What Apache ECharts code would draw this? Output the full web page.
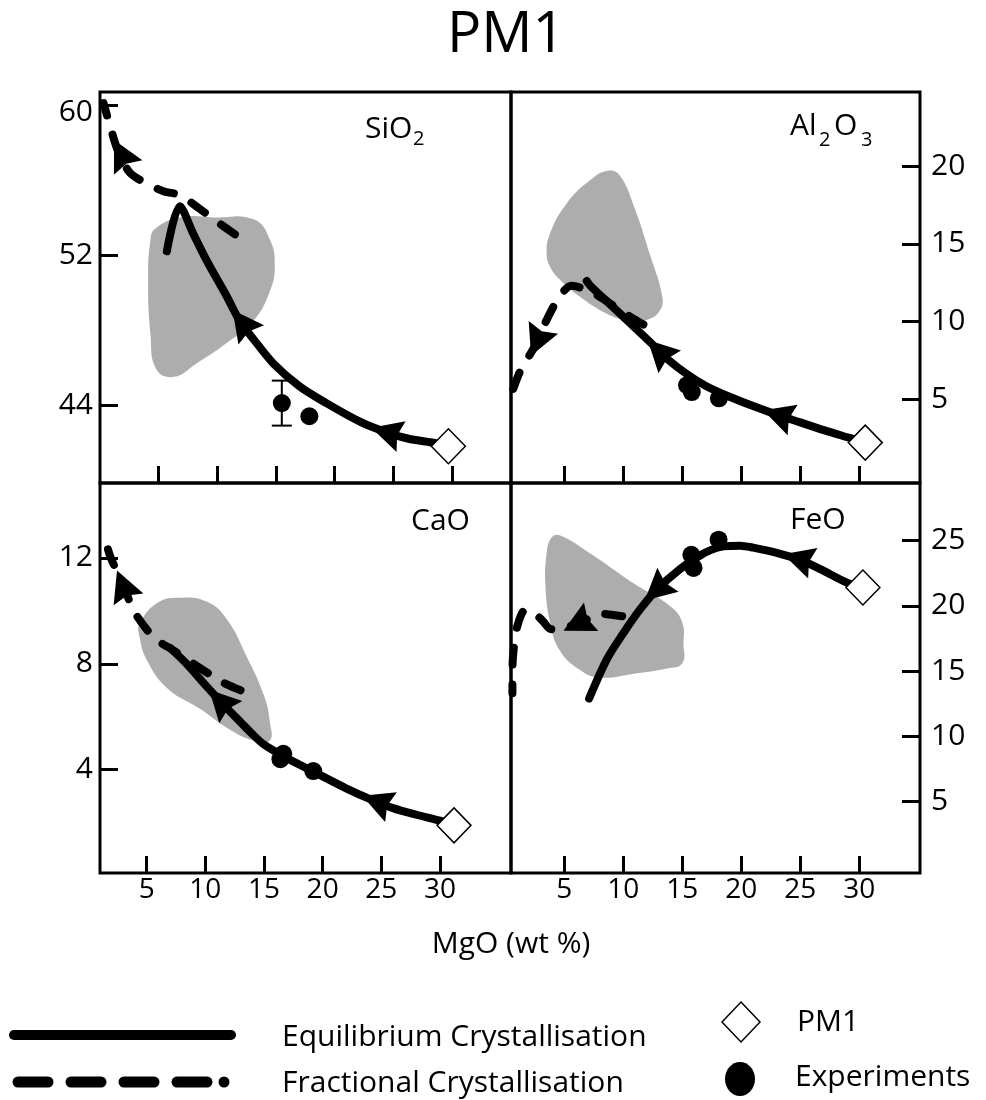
<!DOCTYPE html>
<html><head><meta charset="utf-8">
<script src="https://cdn.jsdelivr.net/npm/echarts@6/dist/echarts.min.js"></script>
<style>html,body{margin:0;padding:0;background:#fff}#c{width:986px;height:1100px}</style>
</head><body><div id="c"></div><script>
// ---------- data ----------
const xTicks = [5, 10, 15, 20, 25, 30];
const sioTicks = [44, 52, 60];
const alTicks = [5, 10, 15, 20];
const caTicks = [4, 8, 12];
const feTicks = [5, 10, 15, 20, 25];

// SiO2
const sioEq = [[29.7,41.8],[28.3,42.0],[26.3,42.2],[24.4,42.55],[22.2,43.1],[19.3,44.1],[17.0,45.0],[14.8,46.2],[13.1,47.5],[11.9,48.5],[10.8,49.8],[9.1,51.7],[7.9,53.2],[6.8,54.6],[5.7,52.2]];
const sioFrac = [[11.5,53.1],[9.7,53.9],[8.2,54.6],[6.8,55.2],[5.4,55.4],[3.4,56.0],[2.4,56.5],[1.5,57.6],[0.85,58.9],[0.3,60.1]];
const sioEqArrows = [[24.4,42.55],[12.1,48.4]];
const sioFracArrows = [[1.8,57.4]];
const sioArea = [[4.7,53.4],[6.8,54.0],[9.7,54.0],[13.1,53.9],[14.5,52.8],[14.9,51.4],[14.5,50.1],[13.1,48.5],[10.8,47.3],[8.2,46.2],[6.3,45.5],[4.8,45.9],[4.3,47.8],[4.1,50.7],[4.3,52.8]];
const sioExp = [[15.5,44.1],[17.85,43.4]];
const sioErr = [[15.5,42.9,45.3]];
const sioPM = [[29.7,41.8]];

// Al2O3
const alEq = [[30.5,2.2],[29.2,2.5],[27,3.0],[25,3.5],[23,4.0],[21,4.55],[19,5.15],[17,5.85],[15.4,6.6],[13.7,7.6],[12.5,8.5],[11.4,9.3],[10.0,10.3],[8.6,11.3],[7.2,12.3],[6.9,12.6]];
const alFrac = [[11.7,9.8],[10.6,10.3],[9.2,11.0],[7.5,11.8],[5.6,12.3],[4.6,11.6],[3.5,10.1],[2.7,8.7],[1.8,7.5],[1.2,6.7],[0.5,5.3]];
const alEqArrows = [[23.1,3.97],[13.0,8.1]];
const alFracArrows = [[2.7,8.7]];
const alArea = [[8.7,19.7],[9.7,19.4],[10.9,17.4],[12.3,14.2],[13.3,11.6],[13.1,10.7],[12.0,10.1],[10.3,10.1],[8.6,10.5],[6.3,11.6],[4.6,12.7],[3.8,13.5],[3.5,14.4],[3.8,15.7],[5.2,17.6],[7.2,19.1]];
const alExp = [[15.4,5.9],[15.8,5.45],[18.1,5.05]];
const alPM = [[30.5,2.2]];

// CaO
const caEq = [[31.2,1.9],[30.0,2.08],[28.0,2.3],[26.0,2.55],[24.0,2.9],[22.0,3.3],[20.0,3.75],[18.0,4.2],[16.5,4.55],[15.0,4.95],[14.0,5.35],[13.0,5.8],[11.25,6.6],[9.8,7.3],[8.4,8.0],[7.0,8.6]];
const caFrac = [[13.0,7.0],[11.5,7.3],[9.0,8.0],[7.3,8.5],[5.6,9.0],[3.9,10.0],[3.0,11.0],[1.9,12.05],[1.3,13.0]];
const caEqArrows = [[24.6,2.8],[11.25,6.6]];
const caFracArrows = [[2.96,10.98]];
const caArea = [[4.4,9.5],[5.9,10.3],[7.8,10.5],[10.1,10.35],[11.8,9.7],[13.5,8.3],[15.0,6.8],[15.5,5.8],[15.5,5.1],[14.1,5.1],[11.8,5.6],[9.55,6.3],[6.7,7.1],[5.0,8.15],[4.4,9.0]];
const caExp = [[16.65,4.6],[16.4,4.4],[19.2,3.95]];
const caPM = [[31.2,1.9]];

// FeO
const feEq = [[30.3,21.4],[29.0,21.75],[26.7,22.8],[25.0,23.5],[23.0,24.05],[21.0,24.45],[19.9,24.6],[18.5,24.55],[17.5,24.3],[16.5,23.85],[14.8,22.8],[12.8,21.2],[11.4,19.7],[10.0,17.9],[8.6,15.9],[7.1,12.9]];
const feFrac = [[9.9,19.2],[8.0,19.4],[7.2,19.1],[6.1,18.6],[3.9,18.2],[3.2,18.8],[2.4,19.5],[1.7,19.7],[1.0,18.4],[0.7,16.6],[0.6,15.1],[0.6,13.3]];
const feEqArrows = [[24.8,23.6],[12.8,21.2]];
const feFracArrows = [[6.1,18.62]];
const feArea = [[4.6,25.4],[7.2,24.0],[10.9,21.7],[14.0,19.95],[15.0,18.7],[15.1,17.1],[15.0,15.6],[13.7,15.2],[10.9,14.8],[8.0,14.5],[6.3,15.1],[4.6,16.6],[3.8,18.7],[3.4,21.5],[3.5,24.0],[3.9,25.2]];
const feExp = [[15.76,23.9],[15.95,22.9],[18.07,25.06]];
const fePM = [[30.3,21.4]];

// ---------- chart ----------
const FONT = '"Open Sans", sans-serif';
const ARROW = 'path://M15,0 L30,30 L15,26 L0,30 Z';
const chart = echarts.init(document.getElementById('c'));

const panels = [
  {eq: sioEq, frac: sioFrac, eqA: sioEqArrows, frA: sioFracArrows, area: sioArea, exp: sioExp, pm: sioPM, yTicks: sioTicks,
   grid: {left: 100, top: 92, width: 411, height: 391}, xr: [0, 35.04], yr: [39.84, 60.69], yPos: 'left', xLabels: false},
  {eq: alEq, frac: alFrac, eqA: alEqArrows, frA: alFracArrows, area: alArea, exp: alExp, pm: alPM, yTicks: alTicks,
   grid: {left: 511, top: 92, width: 409, height: 391}, xr: [0.48, 35.14], yr: [-0.4, 24.77], yPos: 'right', xLabels: false},
  {eq: caEq, frac: caFrac, eqA: caEqArrows, frA: caFracArrows, area: caArea, exp: caExp, pm: caPM, yTicks: caTicks,
   grid: {left: 100, top: 483, width: 411, height: 390}, xr: [1.02, 36.06], yr: [0.1, 14.83], yPos: 'left', xLabels: true},
  {eq: feEq, frac: feFrac, eqA: feEqArrows, frA: feFracArrows, area: feArea, exp: feExp, pm: fePM, yTicks: feTicks,
   grid: {left: 511, top: 483, width: 409, height: 390}, xr: [0.48, 35.14], yr: [-0.46, 29.4], yPos: 'right', xLabels: true}
];

function distSeg(p, a, b) {
  const dx = b[0]-a[0], dy = b[1]-a[1];
  const L = dx*dx + dy*dy || 1;
  let t = ((p[0]-a[0])*dx + (p[1]-a[1])*dy) / L;
  t = Math.max(0, Math.min(1, t));
  const x = a[0]+t*dx, y = a[1]+t*dy;
  return Math.hypot(p[0]-x, p[1]-y);
}
function arrowItems(g, curve, arrows, ready) {
  if (!ready) return arrows.map(a => ({value: a}));
  const pts = curve.map(p => chart.convertToPixel({gridIndex: g}, p));
  return arrows.map(a => {
    const pa = chart.convertToPixel({gridIndex: g}, a);
    let best = 0, bd = Infinity;
    for (let i = 0; i < pts.length-1; i++) {
      const d = distSeg(pa, pts[i], pts[i+1]);
      if (d < bd) { bd = d; best = i; }
    }
    const dx = pts[best+1][0]-pts[best][0], dy = pts[best+1][1]-pts[best][1];
    return {value: a, symbolRotate: Math.atan2(-dy, dx)*180/Math.PI - 90};
  });
}

function buildOption(ready) {
  const grids = [], xAxes = [], yAxes = [], series = [];
  panels.forEach((p, g) => {
    grids.push(Object.assign({show: true, borderColor: '#000', borderWidth: 3, backgroundColor: 'transparent'}, p.grid));
    xAxes.push({type: 'value', gridIndex: g, min: p.xr[0], max: p.xr[1],
      axisLine: {show: false, onZero: false}, splitLine: {show: false},
      axisTick: {show: true, inside: true, length: 17, customValues: xTicks, lineStyle: {color: '#000', width: 3}},
      axisLabel: {show: p.xLabels, customValues: xTicks, margin: 3, color: '#000', fontFamily: FONT, fontSize: 28}});
    yAxes.push({type: 'value', gridIndex: g, min: p.yr[0], max: p.yr[1], position: p.yPos,
      axisLine: {show: false, onZero: false}, splitLine: {show: false},
      axisTick: {show: true, inside: true, length: 18, customValues: p.yTicks, lineStyle: {color: '#000', width: 3}},
      axisLabel: {show: true, customValues: p.yTicks, margin: p.yPos === 'left' ? 7 : 11, color: '#000', fontFamily: FONT, fontSize: 30,
        formatter: v => (g === 0 && v === 60) ? '{d|60}' : String(v),
        rich: {d: {padding: [16, 0, 0, 0], fontSize: 30, fontFamily: FONT, color: '#000'}}}});
    const ax = {xAxisIndex: g, yAxisIndex: g};
    series.push(Object.assign({type: 'custom', z: 1, data: p.area, silent: true,
      renderItem: (params, api) => {
        if (params.dataIndex !== 0) return null;
        return {type: 'polygon', shape: {points: p.area.map(q => api.coord(q)), smooth: 0.45},
                style: {fill: '#adadad'}};
      }}, ax));
    series.push(Object.assign({type: 'line', z: 3, data: p.eq, smooth: 0.3, symbol: 'none', silent: true,
      lineStyle: {color: '#000', width: 8, cap: 'round', join: 'round'}}, ax));
    series.push(Object.assign({type: 'line', z: 3, data: p.frac, smooth: 0.3, symbol: 'none', silent: true,
      lineStyle: {color: '#000', width: 8, type: [17, 20], cap: 'round', join: 'round'}}, ax));
    series.push(Object.assign({type: 'scatter', z: 4, symbol: ARROW, symbolSize: [32, 31], silent: true,
      itemStyle: {color: '#000', opacity: 1},
      data: arrowItems(g, p.eq, p.eqA, ready).concat(arrowItems(g, p.frac, p.frA, ready))}, ax));
    series.push(Object.assign({type: 'scatter', z: 5, symbol: 'circle', symbolSize: 18, silent: true,
      itemStyle: {color: '#000', opacity: 1}, data: p.exp}, ax));
    series.push(Object.assign({type: 'scatter', z: 6, symbol: 'diamond', symbolSize: [34, 35], silent: true,
      itemStyle: {color: '#fff', borderColor: '#000', borderWidth: 1.5, opacity: 1}, data: p.pm}, ax));
  });
  // error bar on SiO2 experiment
  series.push({type: 'custom', xAxisIndex: 0, yAxisIndex: 0, z: 5, data: sioErr, silent: true,
    encode: {x: 0, y: [1, 2]},
    renderItem: (params, api) => {
      const lo = api.coord([api.value(0), api.value(1)]);
      const hi = api.coord([api.value(0), api.value(2)]);
      const st = {stroke: '#000', lineWidth: 2};
      return {type: 'group', children: [
        {type: 'line', shape: {x1: lo[0], y1: lo[1], x2: hi[0], y2: hi[1]}, style: st},
        {type: 'line', shape: {x1: lo[0]-10, y1: lo[1], x2: lo[0]+10, y2: lo[1]}, style: st},
        {type: 'line', shape: {x1: hi[0]-10, y1: hi[1], x2: hi[0]+10, y2: hi[1]}, style: st}
      ]};
    }});

  const txt = (text, x, y, size, align) => ({type: 'text', x: x, y: y, z: 10,
    style: {text: text, fontFamily: FONT, fontSize: size, fill: '#000', align: align || 'left', verticalAlign: 'middle'}});
  const graphic = [
    txt('PM1', 506, 36, 57, 'center'),
    txt('SiO', 365, 129, 30), txt('2', 413, 139, 20),
    txt('Al', 790, 126, 30), txt('2', 819, 140, 20), txt('O', 834, 126, 30), txt('3', 861, 140, 20),
    txt('CaO', 411, 521, 30),
    txt('FeO', 790, 520, 30),
    txt('MgO (wt %)', 511, 944, 30, 'center'),
    // legend
    {type: 'line', shape: {x1: 14, y1: 1035, x2: 231, y2: 1035}, style: {stroke: '#000', lineWidth: 10, lineCap: 'round'}},
    {type: 'line', shape: {x1: 18, y1: 1082, x2: 48, y2: 1082}, style: {stroke: '#000', lineWidth: 11, lineCap: 'round'}},
    {type: 'line', shape: {x1: 71, y1: 1082, x2: 101, y2: 1082}, style: {stroke: '#000', lineWidth: 11, lineCap: 'round'}},
    {type: 'line', shape: {x1: 124, y1: 1082, x2: 154, y2: 1082}, style: {stroke: '#000', lineWidth: 11, lineCap: 'round'}},
    {type: 'line', shape: {x1: 177, y1: 1082, x2: 207, y2: 1082}, style: {stroke: '#000', lineWidth: 11, lineCap: 'round'}},
    {type: 'circle', shape: {cx: 224, cy: 1082, r: 5.5}, style: {fill: '#000'}},
    txt('Equilibrium Crystallisation', 282, 1037, 30),
    txt('Fractional Crystallisation', 282, 1083, 30),
    {type: 'polygon', shape: {points: [[741, 1002], [760, 1022], [741, 1042], [722, 1022]]}, style: {fill: '#fff', stroke: '#000', lineWidth: 1.5}},
    {type: 'ellipse', shape: {cx: 740, cy: 1079, rx: 15, ry: 17}, style: {fill: '#000'}},
    txt('PM1', 797, 1022, 30),
    txt('Experiments', 795, 1077, 30)
  ];
  return {animation: false, backgroundColor: '#fff', grid: grids, xAxis: xAxes, yAxis: yAxes, series: series, graphic: graphic};
}

chart.setOption(buildOption(false));
chart.setOption(buildOption(true), true);
</script></body></html>
